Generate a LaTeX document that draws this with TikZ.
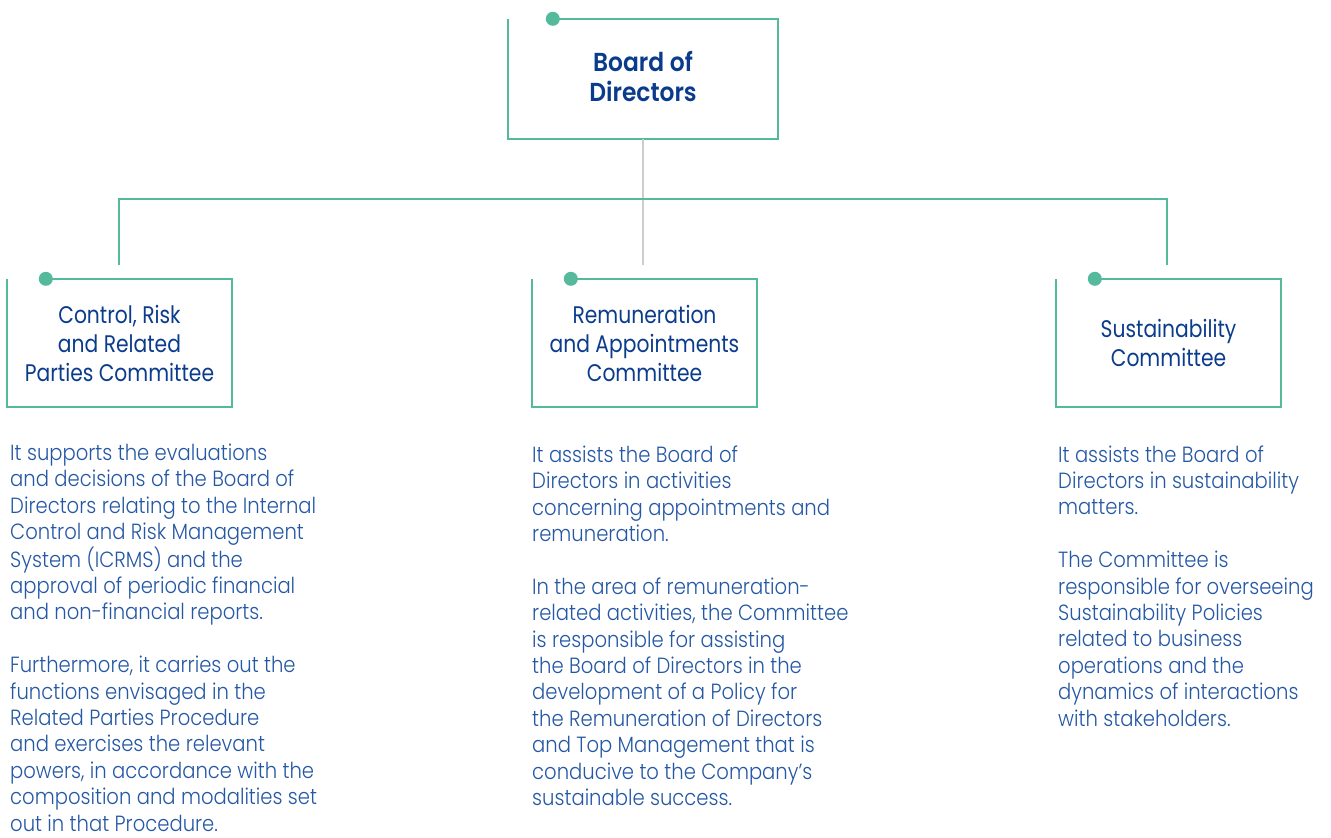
\documentclass[tikz,border=0pt]{standalone}
\usepackage{fontspec}
\setmainfont{Poppins}
\newfontfamily\descfont{Poppins Light}[FakeStretch=0.89]
\newfontfamily\titlefont{Poppins}[FakeStretch=0.845]
\newfontfamily\boldtitlefont{Poppins SemiBold}[FakeStretch=0.9]
\usetikzlibrary{calc}
\definecolor{teal1}{HTML}{55BA9C}
\definecolor{navy1}{HTML}{0B3C8C}
\definecolor{blue1}{HTML}{2457A4}
\definecolor{gray1}{HTML}{CDCDCD}
\tikzset{
  boxshape/.style={inner sep=0pt, minimum width=225pt, minimum height=128pt, align=center, text=navy1,
    font=\titlefont\fontsize{24}{29}\selectfont},
  frame/.style={draw=teal1, line width=2pt},
  conn/.style={draw=teal1, line width=2pt},
  gconn/.style={draw=gray1, line width=2.2pt},
  dotmark/.style={fill=teal1},
  desc/.style={inner sep=0pt, anchor=base west, align=left, text=blue1,
    font=\descfont\fontsize{22}{26.4}\selectfont},
}
\begin{document}
\begin{tikzpicture}[x=1pt,y=-1pt]
\useasboundingbox (0,0) rectangle (1331,838);
% Top box
\node[boxshape, minimum width=270pt, minimum height=120pt, font=\boldtitlefont\fontsize{26}{30}\selectfont] (bod) at (643,76) {Board of\\Directors};
% committees
\node[boxshape] (crp) at (119.5,343) {Control, Risk\\and Related\\Parties Committee};
\node[boxshape] (rac) at (644.5,343) {Remuneration\\and Appointments\\Committee};
\node[boxshape] (sc) at (1168.5,343) {Sustainability\\Committee};
% frames
\foreach \n in {crp,rac,sc}{
  \draw[frame] ($(\n.north west)+(39,0)$) -- (\n.north east) -- (\n.south east) -- (\n.south west) -- (\n.north west);
  \fill[dotmark] ($(\n.north west)+(39,0)$) circle (7pt);
}
\draw[frame] ($(bod.north west)+(45,3)$) -- ($(bod.north east)+(0,3)$) -- ($(bod.south east)+(0,3)$) -- ($(bod.south west)+(0,3)$) -- ($(bod.north west)+(0,3)$);
\fill[dotmark] ($(bod.north west)+(45,3)$) circle (7pt);
% connectors
\coordinate (gend) at (643,265);
\coordinate (lend) at (119,265);
\coordinate (rend) at (1167,265);
\coordinate (busl) at (119,199);
\coordinate (busr) at (1167,199);
\draw[gconn] ($(bod.south)+(0,3)$) -- (gend);
\draw[conn] (lend) -- (busl) -- (busr) -- (rend);
% descriptions (anchored at the baseline of their last line)
\node[desc] (d1) at (10,831) {It supports the evaluations\\and decisions of the Board of\\Directors relating to the Internal\\Control and Risk Management\\System (ICRMS) and the\\approval of periodic financial\\and non-financial reports.\\[26.4pt]Furthermore, it carries out the\\functions envisaged in the\\Related Parties Procedure\\and exercises the relevant\\powers, in accordance with the\\composition and modalities set\\out in that Procedure.};
\node[desc] (d2) at (532,805.5) {It assists the Board of\\Directors in activities\\concerning appointments and\\remuneration.\\[26.4pt]In the area of remuneration-\\related activities, the Committee\\is responsible for assisting\\the Board of Directors in the\\development of a Policy for\\the Remuneration of Directors\\and Top Management that is\\conducive to the Company’s\\sustainable success.};
\node[desc] (d3) at (1058,726) {It assists the Board of\\Directors in sustainability\\matters.\\[26.4pt]The Committee is\\responsible for overseeing\\Sustainability Policies\\related to business\\operations and the\\dynamics of interactions\\with stakeholders.};
\end{tikzpicture}
\end{document}
